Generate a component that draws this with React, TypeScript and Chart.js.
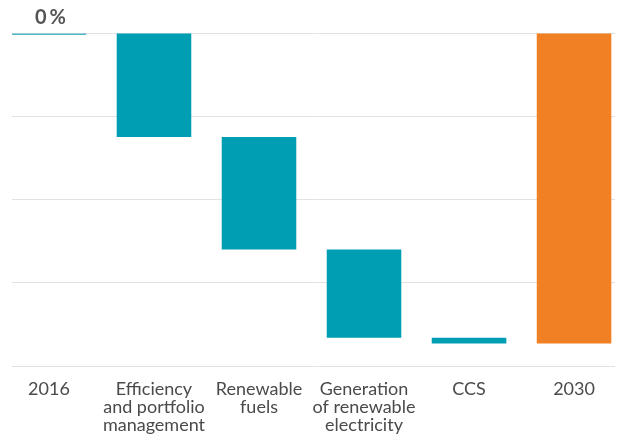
import React, { useEffect, useRef } from "react";
import { Chart, registerables } from "chart.js";

Chart.register(...registerables);

const categories: string[][] = [
  ["2016"],
  ["Efficiency", "and portfolio", "management"],
  ["Renewable", "fuels"],
  ["Generation", "of renewable", "electricity"],
  ["CCS"],
  ["2030"],
];

const startValue = 0; // 2016 level (%)
const steps = [-12.5, -13.5, -10.6, -0.7]; // change per lever (%)
const endValue = -37.3; // 2030 level (%)

const yMin = -40;
const yMax = 0;
const yStep = 10;
const topLabel = "0%";

const TEAL = "rgb(0,158,178)";
const TEAL_LIGHT = "rgb(80,184,200)";
const ORANGE = "rgb(240,128,35)";

function buildBars() {
  const bars: { x: number; y: [number, number] }[] = [{ x: 0, y: [startValue, startValue] }];
  let cum = startValue;
  steps.forEach((s, i) => {
    bars.push({ x: i + 1, y: [cum, cum + s] });
    cum += s;
  });
  bars.push({ x: steps.length + 1, y: [0, endValue] });
  return bars;
}

const topLabelPlugin = {
  id: "topLabel",
  afterDraw(chart: any) {
    const meta = chart.getDatasetMeta(0);
    const el = meta.data[0];
    if (!el) return;
    const y0 = chart.scales.y.getPixelForValue(0);
    const ctx = chart.ctx;
    ctx.save();
    ctx.font = "bold 20px Lato";
    (ctx as any).letterSpacing = "3px";
    ctx.fillStyle = "#555555";
    ctx.textAlign = "center";
    ctx.textBaseline = "alphabetic";
    ctx.fillText(topLabel, el.x + 3, y0 - 9);
    ctx.restore();
  },
};

export default function App() {
  const ref = useRef<HTMLCanvasElement | null>(null);

  useEffect(() => {
    if (!ref.current) return;
    const bars = buildBars();
    const colors = bars.map((_, i) =>
      i === 0 ? TEAL_LIGHT : i === bars.length - 1 ? ORANGE : TEAL
    );
    const chart = new Chart(ref.current, {
      type: "bar",
      data: {
        datasets: [
          {
            data: bars as any,
            backgroundColor: colors,
            borderWidth: 0,
            minBarLength: 2,
            barPercentage: 0.71,
            categoryPercentage: 1,
          },
        ],
      },
      options: {
        animation: false,
        responsive: true,
        maintainAspectRatio: false,
        layout: { padding: { left: 12, right: 10, top: 33, bottom: -9 } },
        plugins: {
          legend: { display: false },
          tooltip: { enabled: false },
        },
        scales: {
          x: {
            type: "linear",
            offset: false,
            min: -0.352,
            max: 5.39,
            afterBuildTicks: (scale: any) => {
              scale.ticks = categories.map((_, i) => ({ value: i }));
            },
            grid: { display: false, drawTicks: false },
            border: { display: false },
            ticks: {
              autoSkip: false,
              maxRotation: 0,
              padding: 14,
              color: "#4a4a4a",
              font: { family: "Lato", size: 18, lineHeight: 1.0 },
              callback: (v: any) => categories[Math.round(Number(v))] ?? "",
            },
          },
          y: {
            min: yMin,
            max: yMax,
            ticks: { display: false, stepSize: yStep },
            grid: { color: "#e2e2e2", drawTicks: false, lineWidth: 1 },
            border: { display: false },
          },
        },
      },
      plugins: [topLabelPlugin],
    });
    return () => chart.destroy();
  }, []);

  return (
    <div style={{ position: "absolute", left: 0, top: 0, width: 625, height: 439, background: "#fff" }}>
      <canvas ref={ref} />
    </div>
  );
}
